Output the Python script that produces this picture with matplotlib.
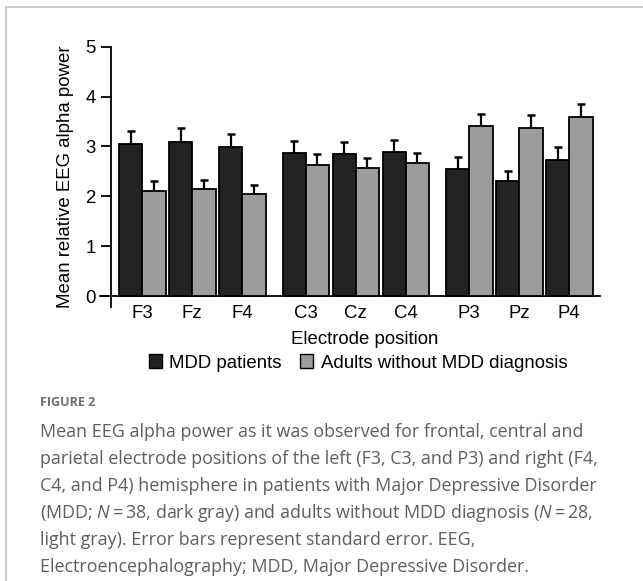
import matplotlib
matplotlib.use("Agg")
import matplotlib.pyplot as plt
from matplotlib.patches import Patch
from matplotlib.lines import Line2D
import numpy as np

electrodes = ["F3", "Fz", "F4", "C3", "Cz", "C4", "P3", "Pz", "P4"]
families = [0, 0, 0, 1, 1, 1, 2, 2, 2]
mdd_mean = [3.04, 3.09, 2.99, 2.86, 2.85, 2.89, 2.54, 2.31, 2.73]
mdd_se = [0.27, 0.28, 0.26, 0.25, 0.23, 0.24, 0.24, 0.20, 0.26]
ctrl_mean = [2.11, 2.14, 2.04, 2.63, 2.57, 2.66, 3.41, 3.37, 3.60]
ctrl_se = [0.19, 0.18, 0.18, 0.22, 0.20, 0.21, 0.25, 0.26, 0.25]
yticks = [0, 1, 2, 3, 4, 5]
series_names = ["MDD patients", "Adults without MDD diagnosis"]
xlabel = "Electrode position"
ylabel = "Mean relative EEG alpha power"
fig_label = "FIGURE 2"
caption_lines = [
    "Mean EEG alpha power as it was observed for frontal, central and",
    "parietal electrode positions of the left (F3, C3, and P3) and right (F4,",
    "C4, and P4) hemisphere in patients with Major Depressive Disorder",
    "(MDD; $\\mathit{N}$\u2009=\u200938, dark gray) and adults without MDD diagnosis ($\\mathit{N}$\u2009=\u200928,",
    "light gray). Error bars represent standard error. EEG,",
    "Electroencephalography; MDD, Major Depressive Disorder.",
]

plt.rcParams["font.family"] = ["Liberation Sans", "DejaVu Sans"]
plt.rcParams["mathtext.fontset"] = "custom"
plt.rcParams["mathtext.it"] = "Open Sans:italic"
plt.rcParams["mathtext.rm"] = "Open Sans"

W, H = 643, 581
fig = plt.figure(figsize=(W / 100, H / 100), dpi=100)

# border lines of the figure panel
fig.add_artist(Line2D([5.5 / W, 1], [1 - 6.5 / H, 1 - 6.5 / H], color="#c4c4c4", lw=1.2, transform=fig.transFigure))
fig.add_artist(Line2D([5.5 / W, 5.5 / W], [0, 1 - 6.5 / H], color="#c4c4c4", lw=1.2, transform=fig.transFigure))

ax = fig.add_axes([100 / W, 1 - 307 / H, 500 / W, (307 - 46.7) / H])

bw = 0.465
fam_gap = 0.27
x0 = np.arange(len(electrodes)) + np.array(families) * fam_gap
dark = "#232323"
light = "#9c9c9c"

ax.bar(x0, mdd_mean, width=bw, align="edge", color=dark, edgecolor="black", linewidth=1.3, zorder=3)
ax.bar(x0 + bw, ctrl_mean, width=bw, align="edge", color=light, edgecolor="black", linewidth=1.3, zorder=3)
ax.errorbar(x0 + bw / 2, mdd_mean, yerr=[np.zeros(9), mdd_se], fmt="none", ecolor="black",
            elinewidth=1.6, capsize=3.0, capthick=1.8, zorder=2)
ax.errorbar(x0 + 1.5 * bw, ctrl_mean, yerr=[np.zeros(9), ctrl_se], fmt="none", ecolor="black",
            elinewidth=1.6, capsize=3.0, capthick=1.8, zorder=2)

ax.set_xlim(-0.38, 9.62)
ax.set_ylim(-0.22, 5.0)
ax.spines["top"].set_visible(False)
ax.spines["right"].set_visible(False)
ax.spines["bottom"].set_position(("data", 0))
ax.spines["left"].set_position(("data", -0.16))
ax.spines["left"].set_bounds(-0.22, 5.0)
for s in ["bottom", "left"]:
    ax.spines[s].set_linewidth(1.3)

fs = 13.4
ax.set_yticks(yticks)
ax.set_yticklabels([str(v) for v in yticks], fontsize=fs)
ax.tick_params(axis="y", direction="out", length=7, width=1.3, pad=4)
ax.set_xticks(x0 + bw)
ax.set_xticklabels(electrodes, fontsize=fs)
ax.tick_params(axis="x", length=0, pad=6.5)
ax.set_ylabel(ylabel, fontsize=fs, labelpad=8)

fig.text(365 / W, 1 - 340 / H, xlabel, ha="center", va="center", fontsize=fs)

handles = [Patch(facecolor=dark, edgecolor="black", linewidth=1.0),
           Patch(facecolor=light, edgecolor="black", linewidth=1.0)]
fig.legend(handles, series_names, loc="center", bbox_to_anchor=(358 / W, 1 - 363 / H), ncol=2,
           frameon=False, fontsize=fs, handlelength=0.7, handleheight=0.7, handletextpad=0.4,
           columnspacing=1.0, borderaxespad=0)

fig.text(40.5 / W, 1 - 402 / H, fig_label, fontsize=9, fontweight="bold", color="#707070",
         family=["Open Sans", "DejaVu Sans"], va="center", ha="left")
for i, line in enumerate(caption_lines):
    fig.text(40 / W, 1 - (432 + 27 * i) / H, line, fontsize=12.9, color="#5e5e5e",
             family=["Open Sans", "DejaVu Sans"], va="center", ha="left")

fig.savefig("out.png", dpi=100)
